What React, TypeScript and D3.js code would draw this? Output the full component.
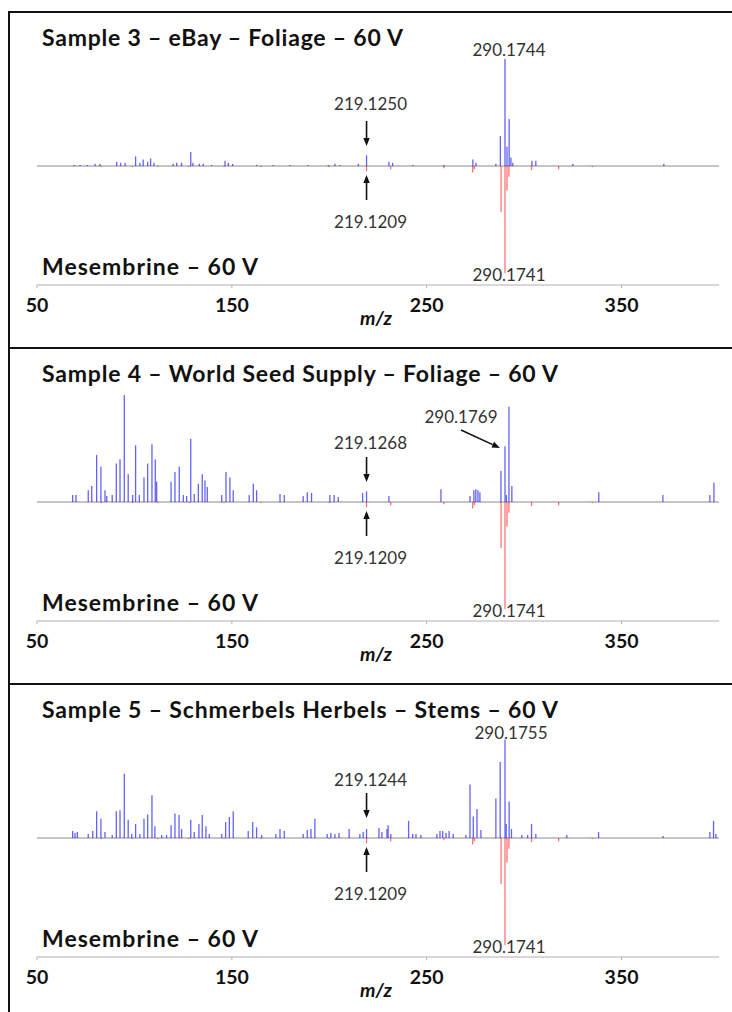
import * as d3 from "d3";

// m/z axis
const mzDomain: [number, number] = [50, 400];
const mzTicks = [50, 150, 250, 350];

// [m/z, relative intensity %]
const sample3Peaks: [number, number][] = [
  [69.0, 1], [72.1, 1], [75.8, 1], [79.8, 2], [82.3, 2], [90.9, 4], [92.9, 3], [95.2, 3],
  [100.6, 9], [102.8, 3], [104.5, 6], [106.8, 4], [108.3, 7], [110.0, 3], [119.9, 2],
  [121.7, 3], [124.2, 3], [128.9, 13], [130.0, 3], [133.3, 2], [135.3, 2], [139.6, 1],
  [146.5, 5], [148.2, 3], [150.4, 2], [162.7, 1], [171.2, 1], [179.8, 1], [189.2, 1],
  [199.5, 1], [202.9, 2], [205.5, 1], [214.9, 2], [219.125, 10], [230.6, 4], [232.5, 3],
  [242.9, 1], [258.8, 1], [273.7, 6], [275.3, 3], [285.5, 2], [287.8, 28], [290.17, 100],
  [291.2, 18], [292.3, 44], [293.2, 8], [294.2, 3], [304.0, 5], [306.0, 5], [325.0, 2],
  [371.7, 2],
];

const sample4Peaks: [number, number][] = [
  [68.3, 6.5], [70.0, 6.5], [76.3, 11], [78.1, 15], [80.6, 44], [82.8, 33], [84.9, 11],
  [85.8, 5.6], [88.6, 6.5], [90.7, 36], [92.6, 40], [94.8, 100], [96.8, 26], [99.1, 6.5],
  [100.6, 53], [102.5, 6.5], [104.9, 23], [106.8, 36], [109.0, 54], [110.7, 40], [111.4, 19],
  [118.8, 19], [120.8, 28], [123.0, 33], [125.1, 6.5], [126.8, 5.6], [128.9, 59], [130.7, 7.5],
  [132.8, 17], [134.8, 26], [136.2, 20], [137.4, 14], [144.8, 6.5], [147.0, 28], [149.0, 23],
  [150.7, 11], [158.9, 6.5], [161.0, 17], [162.7, 11], [174.7, 7.5], [176.9, 6.5], [186.6, 5.6],
  [188.7, 9], [190.9, 8.4], [200.3, 6.5], [202.5, 6.5], [204.6, 4.7], [217.1, 8.4],
  [219.127, 10], [230.6, 5.6], [257.3, 12], [272.2, 5.6], [274.2, 11], [275.2, 12], [276.3, 11],
  [277.3, 9], [288.1, 29], [290.18, 52], [290.9, 6.5], [292.2, 89], [293.7, 15], [338.3, 9],
  [371.2, 6.5], [395.3, 6.5], [397.4, 18],
];

const sample5Peaks: [number, number][] = [
  [68.3, 6.5], [69.5, 4.7], [70.7, 5.6], [76.3, 3.7], [78.6, 6.5], [80.6, 25], [82.8, 18],
  [84.9, 5.6], [88.6, 2.8], [90.7, 25], [92.6, 26], [94.8, 60], [96.8, 17], [98.6, 3.7],
  [100.6, 13], [102.8, 3.7], [104.9, 18], [106.8, 22], [109.0, 40], [110.5, 11], [114.0, 2.8],
  [116.5, 2.8], [118.8, 12], [120.8, 23], [122.9, 21.5], [124.2, 8.4], [128.9, 17], [130.7, 5.6],
  [133.1, 13], [134.8, 21.5], [136.7, 11], [138.4, 3.7], [144.8, 3.7], [146.8, 15], [148.7, 19.6],
  [150.7, 25], [158.4, 6.5], [160.7, 15], [162.7, 10], [165.3, 2.8], [172.6, 3.7], [174.7, 8.4],
  [176.9, 6.5], [186.6, 3.7], [188.7, 7.5], [190.6, 8.4], [192.6, 18], [198.9, 3.7], [200.8, 4.7],
  [202.9, 3.7], [205.0, 4.7], [210.2, 8.4], [215.7, 3.7], [217.4, 5.6], [219.124, 8.4],
  [225.5, 9.3], [227.0, 5.6], [229.6, 8.4], [230.2, 12], [231.6, 3.7], [240.7, 16], [242.8, 3.7],
  [244.5, 3.7], [247.0, 2.8], [255.2, 3.7], [256.8, 6.5], [258.2, 6.5], [259.9, 4.7], [261.5, 6.5],
  [263.6, 3.7], [270.1, 2.8], [272.2, 50], [273.9, 20], [275.8, 27], [277.8, 7.5], [285.5, 37],
  [287.7, 71], [290.18, 92], [290.8, 13], [292.3, 34], [293.5, 8.4], [298.8, 2.8], [301.8, 2.8],
  [303.8, 13], [306.0, 3.7], [321.9, 2.8], [338.2, 5.6], [371.3, 1.9], [395.3, 5.6], [397.2, 16],
  [398.4, 3.7],
];

const mesembrinePeaks: [number, number][] = [
  [83.0, 1], [99.0, 1], [112.0, 1], [128.0, 1], [146.0, 1], [165.0, 1], [200.0, 1],
  [219.121, 5], [231.5, 3], [258.8, 2], [273.6, 6], [274.5, 3], [288.16, 43], [290.17, 100],
  [291.2, 23], [292.2, 10], [303.8, 4], [317.7, 3], [335.0, 1],
];

const sampleTitles = [
  "Sample 3 – eBay – Foliage – 60 V",
  "Sample 4 – World Seed Supply – Foliage – 60 V",
  "Sample 5 – Schmerbels Herbels – Stems – 60 V",
];
const sampleSeries = [sample3Peaks, sample4Peaks, sample5Peaks];
const fragmentLabels = ["219.1250", "219.1268", "219.1244"];
const parentLabels = ["290.1744", "290.1769", "290.1755"];
const referenceTitle = "Mesembrine – 60 V";
const referenceFragment = "219.1209";
const referenceParent = "290.1741";
const fragmentMz = 219.12;
const parentMz = 290.17;

const W = 732;
const H = 1012;
const FRAME_TOP = 12;
const PANEL_H = 336;
const FONT = "Lato, 'Open Sans', sans-serif";
// widths the titles take up in the original figure
const titleWidths = [361, 516, 516];
const referenceTitleWidth = 216;

const x = d3.scaleLinear().domain(mzDomain).range([37, 719]);
const h = d3.scaleLinear().domain([0, 100]).range([0, 107]);

function Arrow({ x1, y1, x2, y2 }: { x1: number; y1: number; x2: number; y2: number }) {
  const ang = Math.atan2(y2 - y1, x2 - x1);
  const len = 8;
  const wid = 3.2;
  const bx = x2 - len * Math.cos(ang);
  const by = y2 - len * Math.sin(ang);
  const px = -Math.sin(ang) * wid;
  const py = Math.cos(ang) * wid;
  return (
    <g>
      <line x1={x1} y1={y1} x2={bx} y2={by} stroke="#111" strokeWidth={1.6} />
      <path d={`M${x2},${y2}L${bx + px},${by + py}L${bx - px},${by - py}Z`} fill="#111" />
    </g>
  );
}

function Panel({ idx }: { idx: number }) {
  const top = FRAME_TOP + idx * PANEL_H;
  const b = top + 154;
  const axisY = top + 273;
  const xf = x(fragmentMz);
  const xp = x(parentMz);

  let parent;
  if (idx === 0) {
    parent = (
      <text x={xp + 4} y={b - 110} textAnchor="middle" fontSize={17} fill="#333">{parentLabels[idx]}</text>
    );
  } else if (idx === 1) {
    parent = (
      <g>
        <text x={xp - 44} y={b - 79} textAnchor="middle" fontSize={17} fill="#333">{parentLabels[idx]}</text>
        <Arrow x1={xp - 44} y1={b - 72} x2={xp - 5} y2={b - 54} />
      </g>
    );
  } else {
    parent = (
      <text x={xp + 6} y={b - 99} textAnchor="middle" fontSize={17} fill="#333">{parentLabels[idx]}</text>
    );
  }
  const fragY = [b - 56, b - 53, b - 52][idx];

  return (
    <g fontFamily={FONT}>
      <line x1={9} x2={W} y1={top} y2={top} stroke="#111" strokeWidth={2.2} />
      <text x={42} y={top + 34} fontSize={23} fontWeight={700} fill="#111"
        textLength={titleWidths[idx]} lengthAdjust="spacing">{sampleTitles[idx]}</text>
      <text x={42} y={top + 263} fontSize={23} fontWeight={700} fill="#111"
        textLength={referenceTitleWidth} lengthAdjust="spacing">{referenceTitle}</text>

      {/* zero line */}
      <line x1={x(50)} x2={x(400)} y1={b} y2={b} stroke="#8a8a8a" strokeWidth={1} />

      {/* sample spectrum, up */}
      <g stroke="#0000ff" strokeOpacity={0.62} strokeWidth={1.3}>
        {sampleSeries[idx].map(([mz, v], i) => (
          <line key={i} x1={x(mz)} x2={x(mz)} y1={b} y2={b - h(v)} />
        ))}
      </g>
      {/* reference spectrum, down */}
      <g stroke="#ff0000" strokeOpacity={0.55} strokeWidth={1.3}>
        {mesembrinePeaks.map(([mz, v], i) => (
          <line key={i} x1={x(mz)} x2={x(mz)} y1={b} y2={b + h(v)} />
        ))}
      </g>

      {/* annotations */}
      {parent}
      <text x={xf + 4} y={fragY} textAnchor="middle" fontSize={17} fill="#333">{fragmentLabels[idx]}</text>
      <Arrow x1={xf} y1={b - 45} x2={xf} y2={b - 20} />
      <Arrow x1={xf} y1={b + 34} x2={xf} y2={b + 9} />
      <text x={xf + 4} y={b + 62} textAnchor="middle" fontSize={17} fill="#333">{referenceFragment}</text>
      <text x={xp + 4} y={b + 115} textAnchor="middle" fontSize={17} fill="#333">{referenceParent}</text>

      {/* m/z axis */}
      <line x1={x(50)} x2={x(400)} y1={axisY} y2={axisY} stroke="#b0b0b0" strokeWidth={1.2} />
      {mzTicks.map((t) => (
        <g key={t}>
          <line x1={x(t)} x2={x(t)} y1={axisY} y2={axisY + 3} stroke="#b0b0b0" strokeWidth={1} />
          <text x={x(t)} y={axisY + 27} textAnchor="middle" fontSize={19.5} fontWeight={700} fill="#111">{t}</text>
        </g>
      ))}
      <text x={376} y={axisY + 40} textAnchor="middle" fontSize={19.5} fontWeight={700} fontStyle="italic" fill="#111">m/z</text>
    </g>
  );
}

export default function App() {
  return (
    <svg width={W} height={H} style={{ position: "absolute", left: 0, top: 0, background: "#fff" }}>
      <rect width={W} height={H} fill="#fff" />
      {sampleTitles.map((_, i) => (
        <Panel key={i} idx={i} />
      ))}
      <line x1={9} x2={9} y1={FRAME_TOP - 1} y2={H} stroke="#111" strokeWidth={2} />
    </svg>
  );
}
